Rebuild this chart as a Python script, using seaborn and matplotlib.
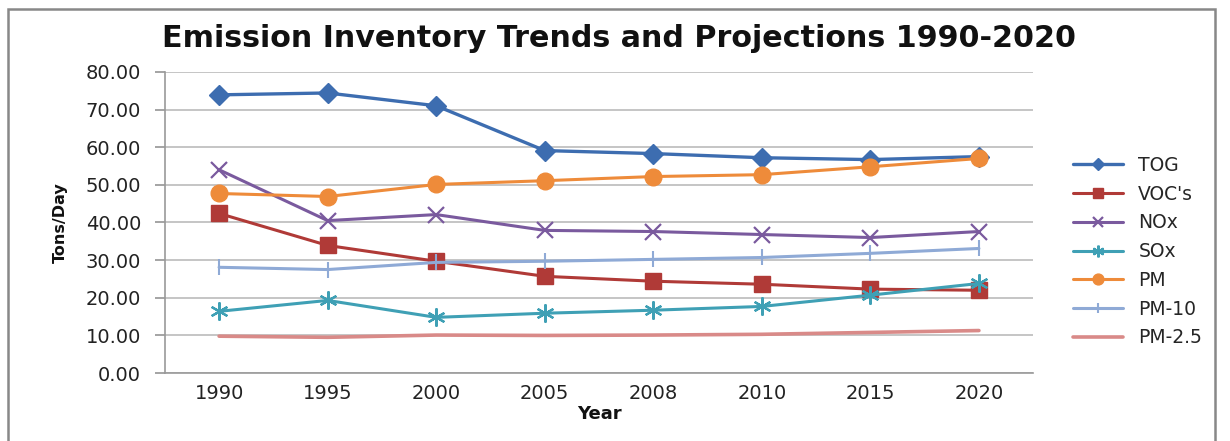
import matplotlib
matplotlib.use("Agg")
import matplotlib.pyplot as plt
import seaborn as sns
import pandas as pd
from matplotlib.patches import Rectangle

years = ["1990", "1995", "2000", "2005", "2008", "2010", "2015", "2020"]
tog = [73.9, 74.4, 71.0, 59.1, 58.3, 57.2, 56.7, 57.5]
vocs = [42.4, 33.9, 29.7, 25.7, 24.4, 23.6, 22.3, 22.0]
nox = [54.0, 40.5, 42.1, 37.9, 37.6, 36.8, 36.0, 37.6]
sox = [16.4, 19.3, 14.8, 15.9, 16.7, 17.7, 20.7, 23.8]
pm = [47.7, 46.9, 50.1, 51.1, 52.2, 52.7, 54.8, 57.0]
pm10 = [28.1, 27.5, 29.4, 29.7, 30.2, 30.7, 31.8, 33.1]
pm25 = [9.8, 9.5, 10.1, 10.0, 10.1, 10.3, 10.8, 11.3]
series_names = ["TOG", "VOC's", "NOx", "SOx", "PM", "PM-10", "PM-2.5"]
y_ticks = [0, 10, 20, 30, 40, 50, 60, 70, 80]

sns.set_theme(style="white")
plt.rcParams['font.family'] = ['DejaVu Sans']

rows = []
for name, vals in zip(series_names, [tog, vocs, nox, sox, pm, pm10, pm25]):
    for i, (yr, v) in enumerate(zip(years, vals)):
        rows.append({"idx": i, "Year": yr, "value": v, "series": name})
df = pd.DataFrame(rows)

styles = {
    "TOG": dict(color="#3D6DB0", marker="D", ms=10, mfc="#3D6DB0", mec="#3D6DB0", lw=2.4),
    "VOC's": dict(color="#B03A37", marker="s", ms=11, mfc="#B03A37", mec="#B03A37", lw=2.2),
    "NOx": dict(color="#7A5A9E", marker="x", ms=12, mfc="none", mec="#7A5A9E", lw=2.2, mew=1.6),
    "SOx": dict(color="#3FA0B5", marker=(6, 2, 0), ms=13, mfc="none", mec="#3FA0B5", lw=2.2, mew=1.6),
    "PM": dict(color="#EE8B3A", marker="o", ms=12, mfc="#EE8B3A", mec="#EE8B3A", lw=2.2),
    "PM-10": dict(color="#8FAAD6", marker="|", ms=12, mfc="none", mec="#8FAAD6", lw=2.2, mew=1.5),
    "PM-2.5": dict(color="#D98A88", marker=None, ms=0, lw=2.6),
}

fig = plt.figure(figsize=(12.3, 4.41), dpi=100)
ax = fig.add_axes([0.134, 0.154, 0.706, 0.683])

for name in series_names:
    st = styles[name]
    sub = df[df["series"] == name]
    kw = dict(color=st["color"], linewidth=st["lw"], label=name, ax=ax)
    if st["marker"] is not None:
        kw.update(marker=st["marker"], markersize=st["ms"],
                  markerfacecolor=st["mfc"], markeredgecolor=st["mec"],
                  markeredgewidth=st.get("mew", 1.0))
    sns.lineplot(data=sub, x="idx", y="value", **kw)

ax.set_xlim(-0.5, len(years) - 0.5)
ax.set_ylim(0, 80)
ax.set_yticks(y_ticks)
ax.set_yticklabels([f"{t:.2f}" for t in y_ticks], fontsize=14, color="#222222")
ax.set_xticks(range(len(years)))
ax.set_xticklabels(years, fontsize=14, color="#222222")
ax.tick_params(axis="x", length=0, pad=8)
ax.set_xticks([i - 0.5 for i in range(len(years) + 1)], minor=True)
ax.tick_params(axis="x", which="minor", length=5, color="#999999", direction="out")
ax.tick_params(axis="y", length=7, color="#999999", direction="out", left=True, pad=10)
ax.yaxis.grid(True, color="#BBBBBB", linewidth=1.2)
ax.xaxis.grid(False)
for s in ["top", "right"]:
    ax.spines[s].set_visible(False)
for s in ["left", "bottom"]:
    ax.spines[s].set_color("#999999")
    ax.spines[s].set_linewidth(1.2)

ax.set_xlabel("Year", fontsize=13, fontweight="bold", labelpad=1, color="#111111")
ax.set_ylabel("Tons/Day", fontsize=11.5, fontweight="bold", labelpad=13, color="#111111")

fig.text(0.503, 0.912, "Emission Inventory Trends and Projections 1990-2020",
         ha="center", va="center", fontsize=21.7, fontweight="bold", color="#111111")

leg = ax.legend(loc="center left", bbox_to_anchor=(1.026, 0.403), frameon=False,
                fontsize=13.5, handlelength=2.7, labelspacing=0.52, handletextpad=0.8,
                markerscale=0.65)

fig.patches.append(Rectangle((8 / 1230, -0.05), (1215 - 8) / 1230, 1 - 9 / 441 + 0.05,
                             transform=fig.transFigure, fill=False,
                             edgecolor="#888888", linewidth=1.8))

fig.savefig("out.png", dpi=100)
